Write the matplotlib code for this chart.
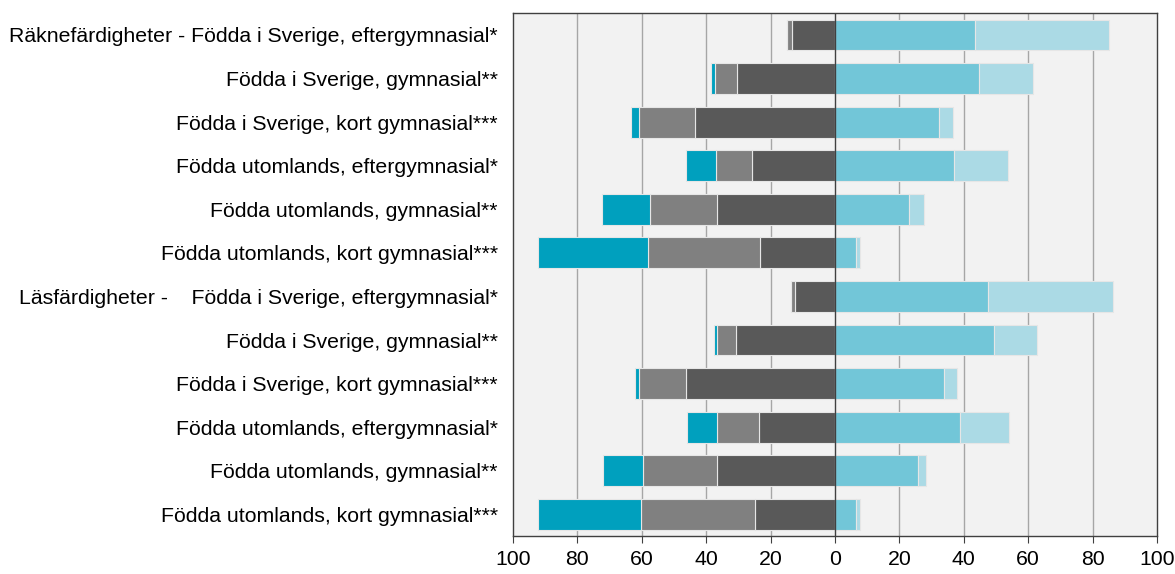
import matplotlib.pyplot as plt
import numpy as np

plt.rcParams['font.family'] = ['Liberation Sans', 'DejaVu Sans']

labels = [
    "Räknefärdigheter - Födda i Sverige, eftergymnasial*",
    "Födda i Sverige, gymnasial**",
    "Födda i Sverige, kort gymnasial***",
    "Födda utomlands, eftergymnasial*",
    "Födda utomlands, gymnasial**",
    "Födda utomlands, kort gymnasial***",
    "Läsfärdigheter -    Födda i Sverige, eftergymnasial*",
    "Födda i Sverige, gymnasial**",
    "Födda i Sverige, kort gymnasial***",
    "Födda utomlands, eftergymnasial*",
    "Födda utomlands, gymnasial**",
    "Födda utomlands, kort gymnasial***",
]

# left side (shown as negative), from zero outwards
dark = [13.4, 30.5, 43.5, 25.8, 36.6, 23.4, 12.4, 30.9, 46.4, 23.7, 36.6, 24.7]
gray = [1.4, 6.9, 17.4, 11.3, 21.0, 34.8, 1.3, 5.9, 14.5, 12.9, 22.9, 35.6]
teal = [0.2, 1.1, 2.4, 9.3, 14.9, 34.0, 0.1, 0.7, 1.2, 9.3, 12.4, 31.9]
# right side
mid = [43.4, 44.7, 32.2, 36.8, 22.9, 6.6, 47.6, 49.3, 33.8, 38.7, 25.8, 6.6]
light = [41.7, 16.9, 4.5, 16.9, 4.6, 1.1, 38.6, 13.3, 4.1, 15.3, 2.5, 1.2]

xticks = [-100, -80, -60, -40, -20, 0, 20, 40, 60, 80, 100]

fig = plt.figure(figsize=(11.75, 5.74), dpi=100)
ax = fig.add_axes([0.4366, 0.066, 0.5481, 0.911])
ax.set_facecolor("#F2F2F2")

y = np.arange(len(labels))
h = 0.71
ekw = dict(edgecolor="#E6E6E6", linewidth=0.8, zorder=3)

d = -np.array(dark)
g = -np.array(gray)
t = -np.array(teal)
ax.barh(y, d, height=h, color="#595959", **ekw)
ax.barh(y, g, left=d, height=h, color="#808080", **ekw)
ax.barh(y, t, left=d + g, height=h, color="#00A0BE", **ekw)
ax.barh(y, mid, height=h, color="#72C6D8", **ekw)
ax.barh(y, light, left=mid, height=h, color="#ABDAE5", **ekw)

ax.axvline(0, color="#404040", linewidth=1.0, zorder=4)
for xt in xticks[1:-1]:
    if xt != 0:
        ax.axvline(xt, color="#A6A6A6", linewidth=1.0, zorder=1)

ax.set_xlim(-100, 100)
ax.set_ylim(len(labels) - 0.5, -0.5)
ax.set_xticks(xticks)
ax.set_xticklabels([str(abs(v)) for v in xticks], fontsize=15.3)
ax.set_yticks(y)
ax.set_yticklabels(labels, fontsize=15.3)
ax.tick_params(axis="y", length=0, pad=11)
ax.tick_params(axis="x", length=5, color="#404040", pad=5)

for s in ax.spines.values():
    s.set_color("#404040")
    s.set_linewidth(1.0)

fig.savefig("out.png", dpi=100)
